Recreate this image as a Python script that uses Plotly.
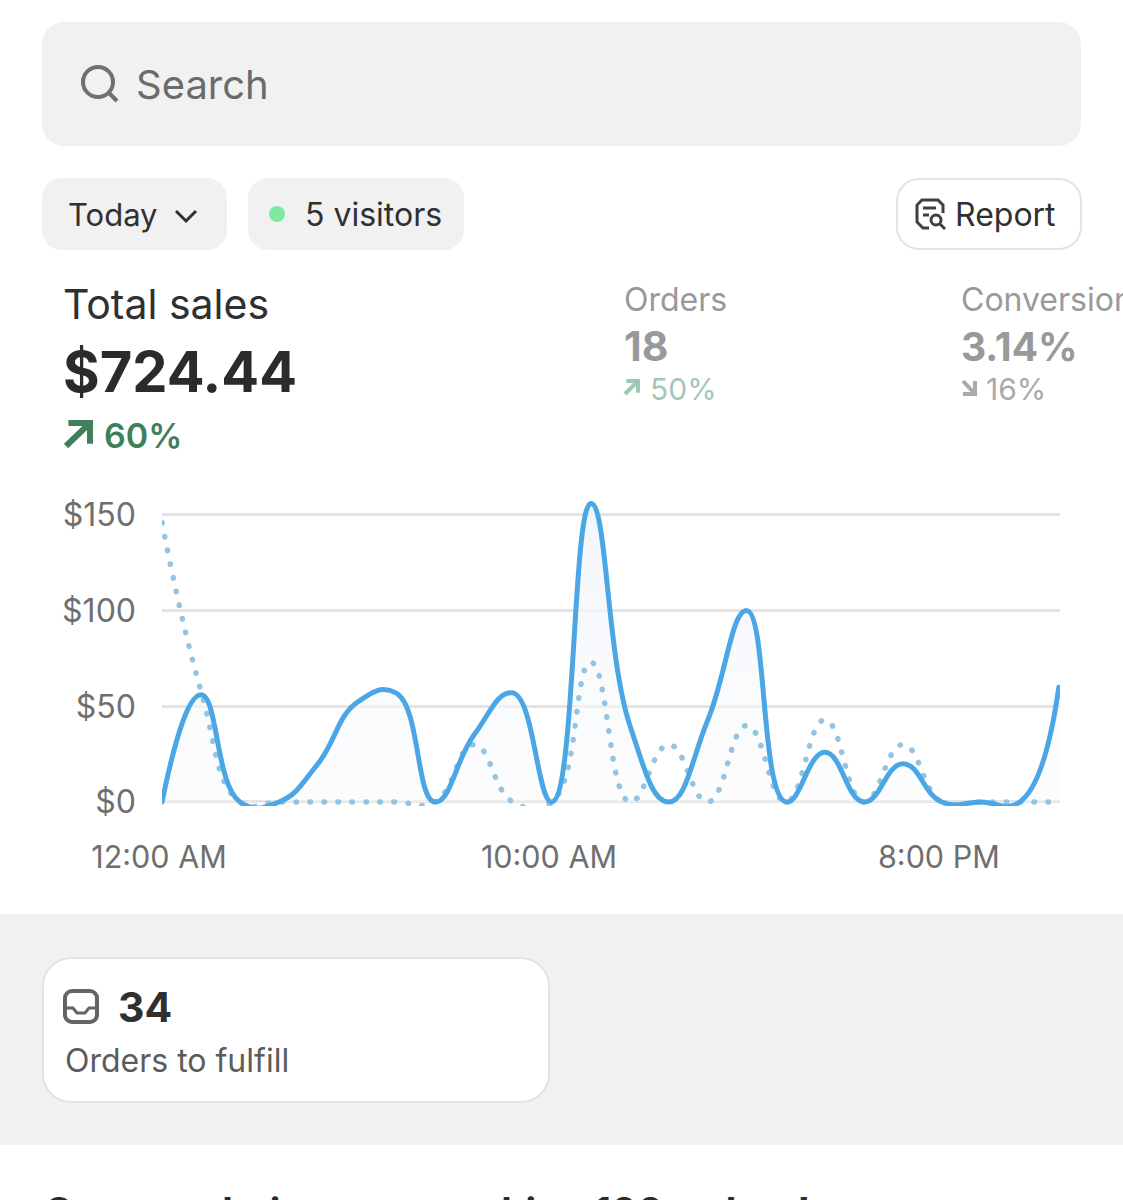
"""Store dashboard screenshot: today's sales against the previous day."""

import plotly.graph_objects as go

W, H = 1123, 1200

# hourly sales, today and the comparison day
hours = list(range(24))
sales_today = [0, 56, 0, 0, 20, 52, 57, 0, 35, 57, 0, 156, 40, 0, 43, 100, 0, 26, 0, 20, 0, 0, 0, 60]
sales_previous = [146, 58, 0, 0, 0, 0, 0, 0, 30, 0, 0, 73, 0, 30, 0, 40, 0, 43, 0, 30, 0, 0, 0, 0]

y_ticks = [0, 50, 100, 150]
y_labels = ["$0", "$50", "$100", "$150"]
x_ticks = [0, 10, 20]
x_labels = ["12:00 AM", "10:00 AM", "8:00 PM"]

FONT = "Inter"
GREY_BG = "#f1f1f1"
BORDER = "#e3e3e3"
BLUE = "#4ba6e6"
DOTS = "#93c5e3"


def px(x):
    return x / W


def py(y):
    return 1 - y / H


def rounded(x0, y0, x1, y1, r):
    # rounded rectangle, given in screen pixels
    k = r * 0.45
    pts = [
        f"M{px(x0 + r)},{py(y0)}", f"L{px(x1 - r)},{py(y0)}",
        f"C{px(x1 - k)},{py(y0)} {px(x1)},{py(y0 + k)} {px(x1)},{py(y0 + r)}",
        f"L{px(x1)},{py(y1 - r)}",
        f"C{px(x1)},{py(y1 - k)} {px(x1 - k)},{py(y1)} {px(x1 - r)},{py(y1)}",
        f"L{px(x0 + r)},{py(y1)}",
        f"C{px(x0 + k)},{py(y1)} {px(x0)},{py(y1 - k)} {px(x0)},{py(y1 - r)}",
        f"L{px(x0)},{py(y0 + r)}",
        f"C{px(x0)},{py(y0 + k)} {px(x0 + k)},{py(y0)} {px(x0 + r)},{py(y0)}", "Z",
    ]
    return " ".join(pts)


def box(x0, y0, x1, y1, r, fill, border=None, width=2):
    return dict(type="path", xref="paper", yref="paper", layer="below", path=rounded(x0, y0, x1, y1, r),
                fillcolor=fill, line=dict(color=border or fill, width=width if border else 0))


def stroke(points, color, width):
    path = "M" + " L".join(f"{px(a)},{py(b)}" for a, b in points)
    return dict(type="path", xref="paper", yref="paper", layer="above", path=path,
                line=dict(color=color, width=width))


def ring(cx, cy, r, color, width, fill="rgba(0,0,0,0)"):
    return dict(type="circle", xref="paper", yref="paper", layer="above",
                x0=px(cx - r), x1=px(cx + r), y0=py(cy + r), y1=py(cy - r),
                fillcolor=fill, line=dict(color=color, width=width))


def arrow_up(x0, y0, x1, y1, color, width):
    return [stroke([(x0, y1), (x1, y0)], color, width),
            stroke([(x0 + (x1 - x0) * 0.1, y0), (x1, y0), (x1, y1 - (y1 - y0) * 0.1)], color, width)]


def arrow_down(x0, y0, x1, y1, color, width):
    return [stroke([(x0, y0), (x1, y1)], color, width),
            stroke([(x1, y0), (x1, y1), (x0, y1)], color, width)]


def label(x, y, text, size, color, bold=False, weight=None):
    # annotations sit about 2 px right of the requested spot
    font = dict(family=FONT, size=size, color=color)
    if weight:
        font["weight"] = weight
    return dict(xref="paper", yref="paper", x=px(x - 2), y=py(y), xanchor="left", yanchor="middle",
                text=f"<b>{text}</b>" if bold else text, showarrow=False, borderpad=0, font=font)


shapes = [
    box(42, 22, 1081, 146, 22, GREY_BG),
    box(42, 178, 227, 250, 20, GREY_BG),
    box(248, 178, 464, 250, 20, GREY_BG),
    box(897, 179, 1081, 249, 22, "#ffffff", BORDER),
    dict(type="rect", xref="paper", yref="paper", layer="below", x0=0, x1=1, y0=py(1145), y1=py(914),
         fillcolor=GREY_BG, line=dict(width=0)),
    box(43, 958, 549, 1102, 28, "#ffffff", BORDER),
    # search icon
    ring(98, 82, 15, "#707070", 4),
    stroke([(109, 93), (117, 101)], "#707070", 4),
    # chevron
    stroke([(176, 211), (186, 221), (196, 211)], "#303030", 3),
    # visitors dot
    ring(277, 214, 8, "#7fe8a2", 0, fill="#7fe8a2"),
    # report icon
    stroke([(929, 228), (923, 228), (917, 222), (917, 205), (922, 200), (938, 200), (943, 205), (943, 213)], "#404040", 3),
    stroke([(923, 208), (936, 208)], "#404040", 3),
    stroke([(923, 215), (929, 215)], "#404040", 3),
    ring(936, 220, 5, "#404040", 3),
    stroke([(940, 224), (945, 229)], "#404040", 3),
    # inbox icon
    box(65, 991, 97, 1022, 7, "rgba(0,0,0,0)", "#646464", 4) | {"layer": "above"},
    stroke([(66, 1008), (73, 1008), (77, 1013), (85, 1013), (89, 1008), (96, 1008)], "#646464", 3),
]
shapes += arrow_up(66, 423, 90, 446, "#3f7f5a", 6)
shapes += arrow_up(625, 381, 638, 394, "#9fc7b2", 4)
shapes += arrow_down(963, 381, 975, 394, "#aaaaaa", 4)

annotations = [
    label(137, 85, "Search", 40, "#6b6b6b"),
    label(69, 214, "Today", 31, "#303030"),
    label(306, 214, "5 visitors", 32, "#303030"),
    label(956, 214, "Report", 32, "#303030"),
    label(64, 304, "Total sales", 41, "#303030"),
    label(64, 372, "$724.44", 56, "#2b2b2b", bold=True),
    label(105, 435, "60%", 34, "#3f7f5a", weight=600),
    label(625, 299, "Orders", 32, "#999999"),
    label(625, 346, "18", 41, "#999999", bold=True),
    label(651, 389, "50%", 30, "#a3c8b5"),
    label(962, 299, "Conversion", 32, "#999999"),
    label(962, 346, "3.14%", 39, "#999999", bold=True),
    label(987, 389, "16%", 30, "#aaaaaa"),
    label(119, 1007, "34", 41, "#303030", bold=True),
    label(66, 1060, "Orders to fulfill", 32, "#5c5c5c"),
    label(45, 1211, "Congratulations on reaching 100 orders!", 39, "#2b2b2b", bold=True),
]

fig = go.Figure()
# fill goes under the dotted line, the solid line on top of both
fig.add_trace(go.Scatter(
    x=hours, y=sales_today, mode="none", name="Today fill", fill="tozeroy",
    line=dict(shape="spline", smoothing=1.3),
    fillgradient=dict(type="vertical", colorscale=[[0, "rgba(250,250,252,0.5)"], [1, "rgba(240,245,250,0.9)"]]),
    hoverinfo="skip",
))
fig.add_trace(go.Scatter(
    x=hours, y=sales_previous, mode="lines", name="Previous",
    line=dict(color=DOTS, width=5.5, shape="spline", smoothing=1.3, dash="0.5px,13.5px"),
    hoverinfo="skip",
))
fig.add_trace(go.Scatter(
    x=hours, y=sales_today, mode="lines", name="Today",
    line=dict(color=BLUE, width=5, shape="spline", smoothing=1.3),
    hoverinfo="skip",
))

fig.update_layout(
    width=W, height=H,
    margin=dict(l=0, r=0, t=0, b=0, autoexpand=False),
    paper_bgcolor="#ffffff", plot_bgcolor="rgba(0,0,0,0)",
    showlegend=False,
    shapes=shapes, annotations=annotations,
    font=dict(family=FONT),
    xaxis=dict(
        domain=[px(162), px(1060)], range=[0, 23.03], anchor="y", automargin=False,
        tickmode="array", tickvals=x_ticks, ticktext=x_labels,
        showgrid=False, zeroline=False, showline=False, ticks="",
        tickfont=dict(family=FONT, size=30.5, color="#6f6f6f"),
        ticklabelstandoff=30, ticklabelshift=-3,
    ),
    yaxis=dict(
        domain=[py(806), py(492)], range=[-2.1, 162], anchor="x", automargin=False,
        tickmode="array", tickvals=y_ticks, ticktext=y_labels,
        showgrid=True, gridcolor=BORDER, gridwidth=2.5, zeroline=False, showline=False, ticks="",
        tickfont=dict(family=FONT, size=32, color="#6f6f6f"),
        ticklabelstandoff=25,
    ),
)

# page margin would otherwise push the 1123 px figure off to the side; round caps make the dots
post = """
document.body.style.margin = '0';
document.querySelectorAll('.scatterlayer .js-line').forEach(function (el) {
  el.style.strokeLinecap = 'round';
});
"""
fig.write_html("out.html", post_script=post, config={"displayModeBar": False})
